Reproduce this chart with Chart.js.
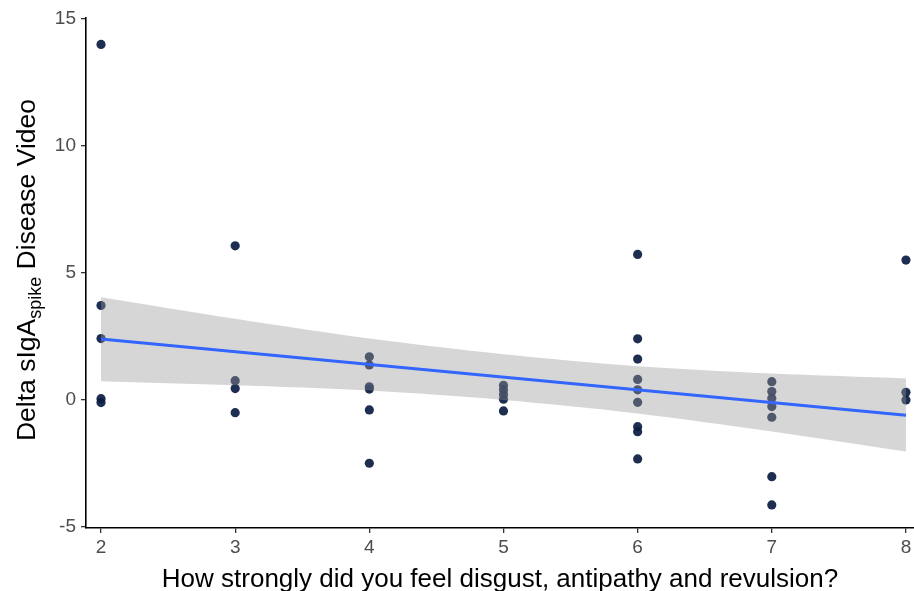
<!DOCTYPE html>
<html>
<head>
<meta charset="utf-8">
<script src="https://cdn.jsdelivr.net/npm/chart.js@4.4.1/dist/chart.umd.min.js"></script>
<style>
    html, body { margin: 0; padding: 0; background: #ffffff; }
    #wrap { width: 914px; height: 591px; }
</style>
</head>
<body>
<div id="wrap"><canvas id="scatter" width="914" height="591"></canvas></div>
<script>
// Observations (x = disgust rating, y = delta sIgA)
const pointX = [
    2, 2, 2, 2, 2,
    3, 3, 3, 3,
    4, 4, 4, 4, 4, 4,
    5, 5, 5, 5, 5,
    6, 6, 6, 6, 6, 6, 6, 6, 6,
    7, 7, 7, 7, 7, 7, 7,
    8, 8, 8,
];
const pointY = [
    14.0, 3.72, 2.42, 0.05, -0.1,
    6.07, 0.76, 0.45, -0.5,
    1.7, 1.38, 0.52, 0.43, -0.39, -2.49,
    0.58, 0.4, 0.22, 0.03, -0.43,
    5.73, 2.41, 1.61, 0.81, 0.4, -0.09, -1.05, -1.25, -2.32,
    0.72, 0.33, 0.07, -0.26, -0.68, -3.02, -4.13,
    5.51, 0.3, 0.0,
];

// Linear fit and its confidence band
const fitX = [2, 8];
const fitY = [2.4, -0.6];
const bandX = [2, 3, 4, 5, 6, 7, 8];
const bandUpper = [4.05, 3.2, 2.42, 1.8, 1.33, 1.04, 0.85];
const bandLower = [0.74, 0.58, 0.37, 0.0, -0.53, -1.24, -2.03];

const xTicks = [2, 3, 4, 5, 6, 7, 8];
const yTicks = [-5, 0, 5, 10, 15];

(function () {
    "use strict";

    const toXY = (xs, ys) => xs.map((x, i) => ({ x: x, y: ys[i] }));

    const fontFamily = "'Liberation Sans', Arial, sans-serif";
    const tickColor = "#4d4d4d";
    const tickFont = { family: fontFamily, size: 19 };
    const titleFont = { family: fontFamily, size: 26 };

    // x tick labels drawn here so Chart.js keeps no right padding for the "8"
    const xLabelPlugin = {
        id: "xLabels",
        afterDraw(chart) {
            const ctx = chart.ctx;
            const xScale = chart.scales.x;
            ctx.save();
            ctx.font = "19px " + fontFamily;
            ctx.fillStyle = tickColor;
            ctx.textAlign = "center";
            ctx.textBaseline = "middle";
            xTicks.forEach((v) => {
                ctx.fillText(String(v), xScale.getPixelForValue(v), chart.chartArea.bottom + 20);
            });
            ctx.restore();
        },
    };

    // y title has a subscript, so draw it by hand
    const yTitlePlugin = {
        id: "yTitle",
        afterDraw(chart) {
            const ctx = chart.ctx;
            const area = chart.chartArea;
            const main = "26.5px " + fontFamily;
            const sub = "18px " + fontFamily;
            const parts = [
                { t: "Delta sIgA", f: main, dy: 0 },
                { t: "spike", f: sub, dy: 6 },
                { t: " Disease Video", f: main, dy: 0 },
            ];
            ctx.save();
            let total = 0;
            parts.forEach((p) => {
                ctx.font = p.f;
                p.w = ctx.measureText(p.t).width;
                total += p.w;
            });
            ctx.translate(35, (area.top + area.bottom) / 2 - 3);
            ctx.rotate(-Math.PI / 2);
            ctx.fillStyle = "#000000";
            ctx.textBaseline = "alphabetic";
            ctx.textAlign = "left";
            let pos = -total / 2;
            parts.forEach((p) => {
                ctx.font = p.f;
                ctx.fillText(p.t, pos, p.dy);
                pos += p.w;
            });
            ctx.restore();
        },
    };

    const ctx = document.getElementById("scatter").getContext("2d");

    new Chart(ctx, {
        type: "scatter",
        data: {
            datasets: [
                {
                    type: "line",
                    data: toXY(fitX, fitY),
                    borderColor: "#3366FF",
                    borderWidth: 3,
                    pointRadius: 0,
                    fill: false,
                    order: 0,
                },
                {
                    type: "line",
                    data: toXY(bandX, bandUpper),
                    borderWidth: 0,
                    borderColor: "rgba(0,0,0,0)",
                    pointRadius: 0,
                    tension: 0.3,
                    backgroundColor: "rgba(153,153,153,0.4)",
                    fill: "+1",
                    order: 1,
                },
                {
                    type: "line",
                    data: toXY(bandX, bandLower),
                    borderWidth: 0,
                    borderColor: "rgba(0,0,0,0)",
                    pointRadius: 0,
                    tension: 0.3,
                    fill: false,
                    order: 1,
                },
                {
                    data: toXY(pointX, pointY),
                    pointRadius: 4.6,
                    borderWidth: 0,
                    backgroundColor: "rgba(11,28,66,0.92)",
                    clip: false,
                    order: 2,
                },
            ],
        },
        options: {
            responsive: false,
            animation: false,
            layout: {
                autoPadding: false,
                padding: { top: 18, right: 0, left: 0, bottom: 0 },
            },
            plugins: {
                legend: { display: false },
                tooltip: { enabled: false },
            },
            scales: {
                x: {
                    type: "linear",
                    min: 1.888,
                    max: 8.06,
                    afterBuildTicks: (scale) => {
                        scale.ticks = xTicks.map((v) => ({ value: v }));
                    },
                    afterFit: (scale) => {
                        scale.height = 63;
                    },
                    ticks: { display: false },
                    grid: {
                        drawOnChartArea: false,
                        drawTicks: true,
                        tickLength: 5,
                        color: "#333333",
                        lineWidth: 1.3,
                    },
                    border: { display: true, color: "#000000", width: 1.6 },
                    title: {
                        display: true,
                        text: "How strongly did you feel disgust, antipathy and revulsion?",
                        color: "#000000",
                        font: titleFont,
                        padding: { top: 0, bottom: -4 },
                    },
                },
                y: {
                    type: "linear",
                    min: -5.04,
                    max: 15.04,
                    afterBuildTicks: (scale) => {
                        scale.ticks = yTicks.map((v) => ({ value: v }));
                    },
                    afterFit: (scale) => {
                        scale.width = 86;
                    },
                    ticks: {
                        color: tickColor,
                        font: tickFont,
                        padding: 5,
                    },
                    grid: {
                        drawOnChartArea: false,
                        drawTicks: true,
                        tickLength: 5,
                        color: "#333333",
                        lineWidth: 1.3,
                    },
                    border: { display: true, color: "#000000", width: 1.6 },
                },
            },
        },
        plugins: [xLabelPlugin, yTitlePlugin],
    });
})();
</script>
</body>
</html>
